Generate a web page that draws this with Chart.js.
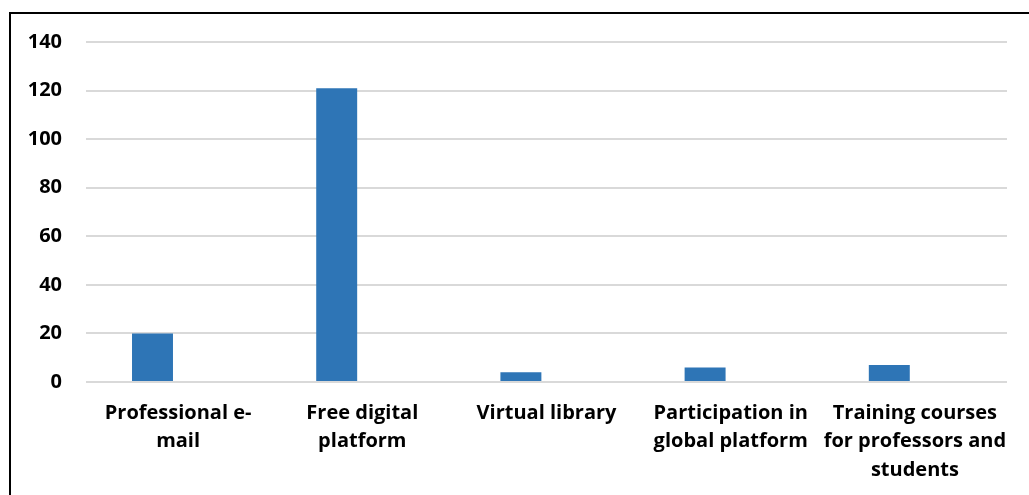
<!DOCTYPE html>
<html>
<head>
<meta charset="utf-8">
<script src="https://cdn.jsdelivr.net/npm/chart.js@4"></script>
<style>
  html, body { margin: 0; padding: 0; background: #fff; overflow: hidden; }
  #wrap { position: absolute; left: 0; top: 0; width: 1029px; height: 495px; }
  #frame { position: absolute; left: 9px; top: 12px; width: 1100px; height: 600px; border: 2px solid #000; pointer-events: none; }
</style>
</head>
<body>
<div id="wrap"><canvas id="c" width="1029" height="495"></canvas></div>
<div id="frame"></div>
<script>
const categories = [
  ["Professional e-", "mail"],
  ["Free digital", "platform"],
  ["Virtual library"],
  ["Participation in", "global platform"],
  ["Training courses", "for professors and", "students"]
];
const values = [20, 121, 4, 6, 7];
const emptySeries = [null, null, null, null, null];
const yTicks = { min: 0, max: 140, step: 20 };

const xFont = { family: "'Open Sans', sans-serif", size: 20, weight: "bold", lineHeight: 1.42 };
const yFont = { family: "'Open Sans', sans-serif", size: 20, weight: "bold" };

new Chart(document.getElementById("c"), {
  type: "bar",
  data: {
    labels: categories,
    datasets: [
      { label: "Series1", data: values, backgroundColor: "#2e75b6", borderWidth: 0,
        categoryPercentage: 0.556, barPercentage: 0.8 },
      { label: "Series2", data: emptySeries, backgroundColor: "#ed7d31", borderWidth: 0,
        categoryPercentage: 0.556, barPercentage: 0.8 }
    ]
  },
  options: {
    responsive: false,
    animation: false,
    devicePixelRatio: 1,
    layout: { padding: { left: 0, right: 22, top: 42, bottom: 0 } },
    plugins: { legend: { display: false }, tooltip: { enabled: false } },
    scales: {
      x: {
        grid: { display: false, drawTicks: false },
        border: { display: false },
        ticks: { color: "#000", font: xFont, maxRotation: 0, autoSkip: false, padding: 17 },
        afterFit: (s) => { s.height = 113; }
      },
      y: {
        min: yTicks.min, max: yTicks.max,
        ticks: { stepSize: yTicks.step, color: "#000", font: yFont, padding: 24 },
        grid: { color: "#d9d9d9", lineWidth: 2, drawTicks: false },
        border: { display: false },
        afterFit: (s) => { s.width = 86; }
      }
    }
  }
});
</script>
</body>
</html>
